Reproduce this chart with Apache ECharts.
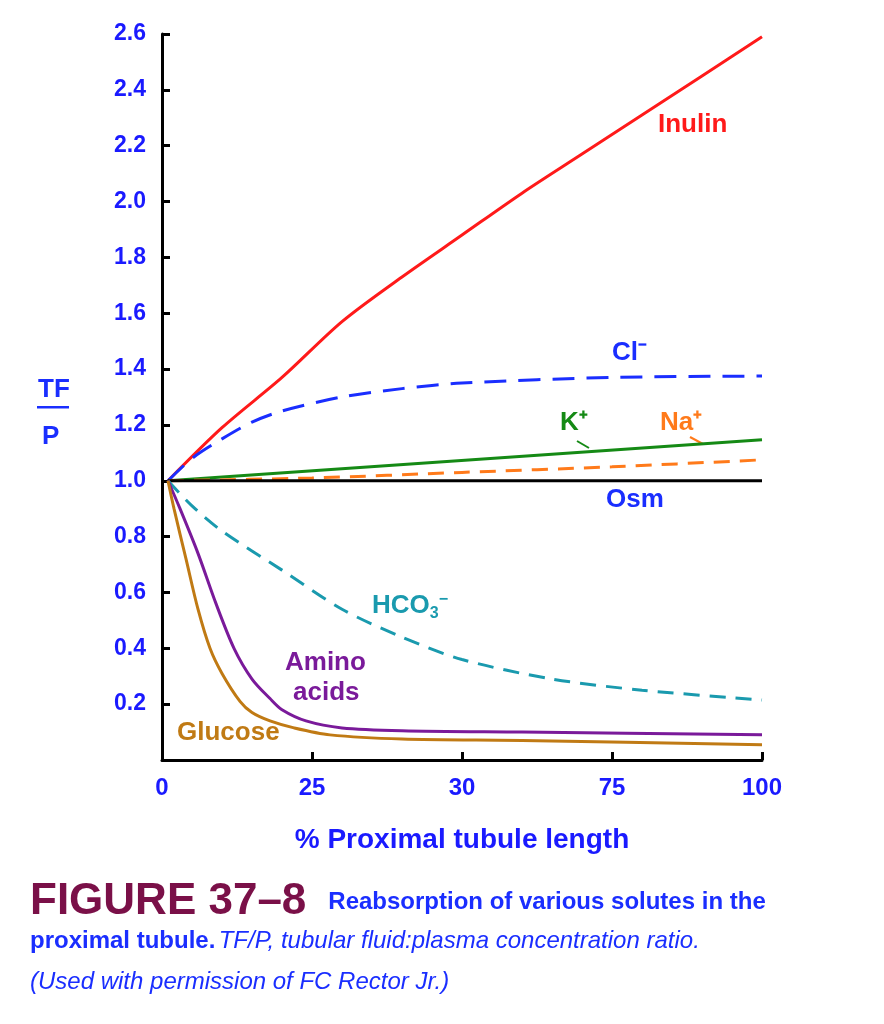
<!DOCTYPE html>
<html><head><meta charset="utf-8">
<script src="https://cdn.jsdelivr.net/npm/echarts@6/dist/echarts.min.js"></script>
<style>html,body{margin:0;padding:0;background:#fff}#c{width:884px;height:1024px}</style>
</head><body><div id="c"></div>
<script>
const xTickLabels = {0:'0',25:'25',50:'30',75:'75',100:'100'};
const inulin = [[1,1.0],[10,1.19],[20,1.37],[30,1.57],[40,1.73],[50,1.88],[60,2.03],[70,2.17],[80,2.31],[90,2.45],[100,2.59]];
const cl = [[1,1.0],[5,1.08],[10,1.15],[15,1.21],[20,1.25],[30,1.30],[40,1.33],[50,1.35],[75,1.37],[100,1.375]];
const kPlus = [[1,1.0],[100,1.147]];
const naPlus = [[1,1.0],[25,1.01],[50,1.03],[75,1.05],[100,1.075]];
const osm = [[1,1.0],[100,1.0]];
const hco3 = [[1,1.0],[5,0.91],[10,0.82],[20,0.68],[30,0.54],[40,0.44],[50,0.36],[65,0.29],[80,0.25],[100,0.215]];
const amino = [[1,1.0],[3,0.90],[6,0.74],[9,0.56],[12,0.40],[15,0.29],[18,0.22],[20,0.18],[24,0.14],[30,0.115],[40,0.105],[60,0.10],[100,0.09]];
const glucose = [[1,1.0],[2,0.90],[4,0.72],[6,0.54],[8,0.40],[10,0.31],[13,0.21],[15,0.17],[18,0.14],[22,0.115],[28,0.09],[40,0.075],[60,0.07],[100,0.055]];

const ch = echarts.init(document.getElementById('c'));
const F = 'Liberation Sans, Arial, sans-serif';
function s(data,color,type,w){return {type:'line',data,smooth:0.3,symbol:'none',lineStyle:{color,width:w||3,type:type||'solid'},z:3};}
const lab=(t,x,y,c,sz)=>({type:'text',left:x,top:y,style:{text:t,fill:c,font:'bold '+(sz||26)+'px '+F}});
ch.setOption({
  animation:false,
  grid:{left:162,right:122,top:34,bottom:264},
  xAxis:{type:'value',min:0,max:100,interval:25,
    axisLine:{lineStyle:{color:'#000',width:3}},
    axisTick:{inside:true,length:8,lineStyle:{color:'#000',width:3}},
    axisLabel:{formatter:v=>xTickLabels[v],color:'#1a1aff',fontWeight:'bold',fontSize:24,fontFamily:F,margin:16},
    splitLine:{show:false},
    name:'% Proximal tubule length',nameLocation:'middle',nameGap:66,
    nameTextStyle:{color:'#1a1aff',fontWeight:'bold',fontSize:28,fontFamily:F}},
  yAxis:{type:'value',min:0,max:2.6,interval:0.2,
    axisLine:{show:true,lineStyle:{color:'#000',width:3}},
    axisTick:{show:true,inside:true,length:8,lineStyle:{color:'#000',width:3}},
    axisLabel:{formatter:v=>v<0.01?'':v.toFixed(1),color:'#1a1aff',fontWeight:'bold',fontSize:23,fontFamily:F,margin:16},
    splitLine:{show:false}},
  series:[
    s(inulin,'#ff1a1a'),
    s(cl,'#1a2eff',[22,12]),
    s(kPlus,'#158a15'),
    s(naPlus,'#ff7a1a',[16,10]),
    s(osm,'#000'),
    s(hco3,'#1a9aae',[16,10]),
    s(amino,'#7a1a9a'),
    s(glucose,'#c07a14')
  ],
  graphic:[
    lab('Inulin',658,112,'#ff1a1a'),
    lab('Cl⁻',612,340,'#1a2eff'),
    lab('K⁺',560,410,'#158a15'),
    {type:'line',shape:{x1:577,y1:441,x2:589,y2:448},style:{stroke:'#158a15',lineWidth:2}},
    lab('Na⁺',660,410,'#ff7a1a'),
    {type:'line',shape:{x1:690,y1:437,x2:703,y2:444},style:{stroke:'#ff7a1a',lineWidth:2}},
    lab('Osm',606,487,'#1a2eff'),
    {type:'text',left:372,top:592,style:{rich:{a:{fill:'#1a9aae',font:'bold 26px '+F},b:{fill:'#1a9aae',font:'bold 16px '+F,padding:[16,0,0,0]},c:{fill:'#1a9aae',font:'bold 16px '+F,padding:[0,0,12,0]}},text:'{a|HCO}{b|3}{c|−}'}},
    lab('Amino',285,650,'#7a1a9a'),
    lab('acids',293,680,'#7a1a9a'),
    lab('Glucose',177,720,'#c07a14'),
    {type:'text',left:38,top:377,style:{text:'TF',fill:'#1a2eff',font:'bold 26px '+F}},
    {type:'rect',shape:{x:37,y:406,width:32,height:2.5},style:{fill:'#1a2eff'}},
    {type:'text',left:42,top:424,style:{text:'P',fill:'#1a2eff',font:'bold 26px '+F}},
    {type:'text',left:30,top:880,style:{rich:{a:{fill:'#7a1048',font:'bold 44px "Liberation Sans Narrow", '+F},b:{fill:'#1a2eff',font:'bold 24px '+F,padding:[0,0,0,22]}},text:'{a|FIGURE 37–8}{b|Reabsorption of various solutes in the}'}},
    {type:'text',left:30,top:929,style:{rich:{a:{fill:'#1a2eff',font:'bold 24px '+F},b:{fill:'#1a2eff',font:'italic 24px '+F}},text:'{a|proximal tubule.} {b|TF/P, tubular fluid:plasma concentration ratio.}'}},
    {type:'text',left:30,top:970,style:{text:'(Used with permission of FC Rector Jr.)',fill:'#1a2eff',font:'italic 24px '+F}}
  ]
});
</script></body></html>
